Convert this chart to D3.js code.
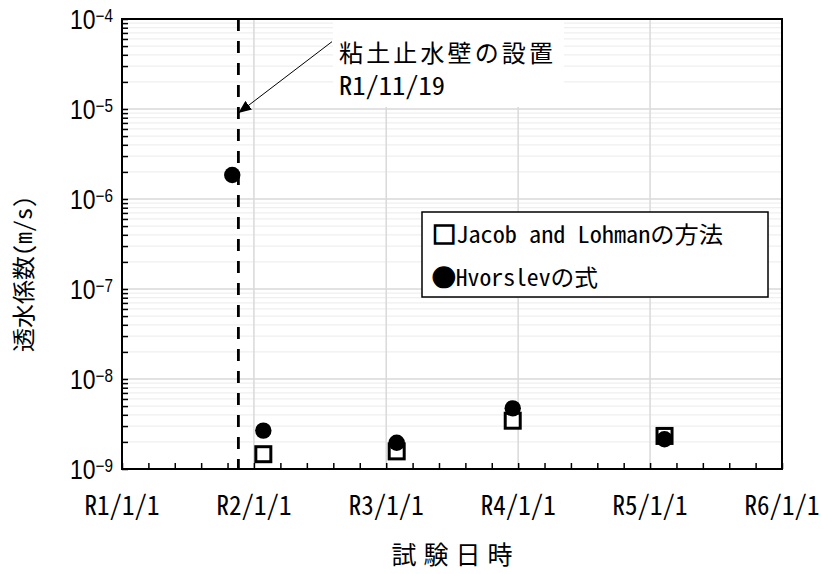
<!DOCTYPE html>
<html><head><meta charset="utf-8">
<script src="https://cdn.jsdelivr.net/npm/d3@7/dist/d3.min.js"></script>
<style>body{margin:0;background:#fff}svg{display:block}</style>
</head><body>
<svg id="c" width="821" height="574"></svg>
<script>
// ---- data ----
const jacobDates = ["2020-01-27", "2021-01-30", "2021-12-17", "2023-02-10"];
const jacobValues = [1.46e-9, 1.57e-9, 3.44e-9, 2.33e-9];
const hvorslevDates = ["2019-11-02", "2020-01-27", "2021-01-30", "2021-12-17", "2023-02-10"];
const hvorslevValues = [1.85e-6, 2.67e-9, 1.96e-9, 4.72e-9, 2.14e-9];
const xTickDates = ["2019-01-01", "2020-01-01", "2021-01-01", "2022-01-01", "2023-01-01", "2024-01-01"];
const xTickLabels = ["R1/1/1", "R2/1/1", "R3/1/1", "R4/1/1", "R5/1/1", "R6/1/1"];
const yTickExponents = [-9, -8, -7, -6, -5, -4];
const wallDate = "2019-11-19";
const annotationLines = ["粘土止水壁の設置", "R1/11/19"];
const annotationFrom = {date: "2020-08-04", value: 5.6e-5};
const annotationTo = {date: "2019-11-19", value: 9.0e-6};
const legendSymbols = ["□", "●"];
const legendLabels = ["Jacob and Lohmanの方法", "Hvorslevの式"];
const xTitle = "試験日時";
const yTitle = "透水係数(m/s)";

// ---- layout ----
const m = {left: 122, right: 782, top: 19, bottom: 469};
const parse = d3.timeParse("%Y-%m-%d");
const svg = d3.select("#c");
const mono = "'Noto Sans Mono CJK JP','Liberation Mono','Noto Sans CJK JP',monospace";
const cjk = "'Noto Sans CJK JP','Noto Sans Mono CJK JP',sans-serif";
const num = "'Liberation Sans Narrow','Arial Narrow','Liberation Sans',sans-serif";

const x = d3.scaleTime().domain([parse(xTickDates[0]), parse(xTickDates[xTickDates.length - 1])]).range([m.left, m.right]);
const y = d3.scaleLog().domain([Math.pow(10, yTickExponents[0]), Math.pow(10, yTickExponents[yTickExponents.length - 1])]).range([m.bottom, m.top]);

const minorY = [];
for (let e = yTickExponents[0]; e < yTickExponents[yTickExponents.length - 1]; e++)
  for (let k = 2; k <= 9; k++) minorY.push(k * Math.pow(10, e));
const majorY = yTickExponents.map(e => Math.pow(10, e));
const minorX = [];
for (let i = 0; i < xTickDates.length - 1; i++) {
  const a = +parse(xTickDates[i]), b = +parse(xTickDates[i + 1]);
  for (let k = 1; k < 5; k++) minorX.push(new Date(a + (b - a) * k / 5));
}
const majorX = xTickDates.map(parse);

// ---- grid ----
const g = svg.append("g");
g.selectAll(".gmin").data(minorY).join("line")
  .attr("x1", m.left).attr("x2", m.right)
  .attr("y1", d => y(d)).attr("y2", d => y(d))
  .attr("stroke", "#efefef").attr("stroke-width", 1.3);
g.selectAll(".gmaj").data(majorY).join("line")
  .attr("x1", m.left).attr("x2", m.right)
  .attr("y1", d => y(d)).attr("y2", d => y(d))
  .attr("stroke", "#d9d9d9").attr("stroke-width", 1.5);
g.selectAll(".gx").data(majorX.slice(1, -1)).join("line")
  .attr("x1", d => x(d)).attr("x2", d => x(d))
  .attr("y1", m.top).attr("y2", m.bottom)
  .attr("stroke", "#d9d9d9").attr("stroke-width", 1.5);

// ---- annotation box ----
const ax0 = x(parse(annotationFrom.date)), ay0 = y(annotationFrom.value);
const ax1 = x(parse(annotationTo.date)), ay1 = y(annotationTo.value);
svg.append("rect").attr("x", ax0 + 1).attr("y", m.top + 1).attr("width", 231).attr("height", 87).attr("fill", "#fff");

// ---- wall line ----
svg.append("line")
  .attr("x1", x(parse(wallDate))).attr("x2", x(parse(wallDate)))
  .attr("y1", m.top).attr("y2", m.bottom)
  .attr("stroke", "#000").attr("stroke-width", 2.8).attr("stroke-dasharray", "12,10");

// arrow
svg.append("defs").append("marker").attr("id", "ah")
  .attr("viewBox", "0 0 13 11").attr("refX", 13).attr("refY", 5.5)
  .attr("markerWidth", 13).attr("markerHeight", 11).attr("markerUnits", "userSpaceOnUse")
  .attr("orient", "auto")
  .append("path").attr("d", "M0,0 L13,5.5 L0,11 Z").attr("fill", "#000");
svg.append("line").attr("x1", ax0).attr("y1", ay0).attr("x2", ax1).attr("y2", ay1)
  .attr("stroke", "#000").attr("stroke-width", 1).attr("marker-end", "url(#ah)");

svg.append("text").attr("x", ax0 + 7).attr("y", 62)
  .attr("font-family", cjk).attr("font-size", 24)
  .attr("textLength", 214).attr("lengthAdjust", "spacing")
  .text(annotationLines[0]);
svg.append("text").attr("x", ax0 + 7).attr("y", 95)
  .attr("font-family", mono).attr("font-size", 25)
  .attr("textLength", 106).attr("lengthAdjust", "spacingAndGlyphs")
  .text(annotationLines[1]);

// ---- data ----
const jacob = jacobDates.map((d, i) => ({d: parse(d), v: jacobValues[i]}));
const hv = hvorslevDates.map((d, i) => ({d: parse(d), v: hvorslevValues[i]}));
svg.selectAll(".sq").data(jacob).join("rect")
  .attr("x", d => x(d.d) - 7.5).attr("y", d => y(d.v) - 7.5)
  .attr("width", 15).attr("height", 15)
  .attr("fill", "#fff").attr("stroke", "#000").attr("stroke-width", 3);
svg.selectAll(".ci").data(hv).join("circle")
  .attr("cx", d => x(d.d)).attr("cy", d => y(d.v)).attr("r", 8.2)
  .attr("fill", "#000");

// ---- axes ----
const yAxis = d3.axisLeft(y).tickValues(minorY.concat(majorY)).tickSize(-6).tickFormat("");
const ya = svg.append("g").attr("transform", `translate(${m.left},0)`).call(yAxis);
ya.select(".domain").remove();
ya.selectAll("line").attr("stroke", "#000").attr("stroke-width", 1.5);

const xAxis = d3.axisBottom(x).tickValues(minorX.concat(majorX)).tickSize(-6).tickFormat("");
const xa = svg.append("g").attr("transform", `translate(0,${m.bottom})`).call(xAxis);
xa.select(".domain").remove();
xa.selectAll("line").attr("stroke", "#000").attr("stroke-width", 1.5);

svg.append("rect").attr("x", m.left).attr("y", m.top)
  .attr("width", m.right - m.left).attr("height", m.bottom - m.top)
  .attr("fill", "none").attr("stroke", "#000").attr("stroke-width", 2);

// y tick labels: "10" with superscript exponent (horizontally condensed)
const yl = svg.append("g");
yTickExponents.forEach(e => {
  const yy = y(Math.pow(10, e));
  const t = yl.append("text")
    .attr("transform", `translate(113,${yy + 9.5}) scale(0.85,1)`)
    .attr("text-anchor", "end")
    .attr("font-family", num).attr("font-size", 27);
  t.append("tspan").text("10");
  t.append("tspan").attr("dy", -6.5).attr("font-size", 18).text("\u2212" + Math.abs(e));
});

// x tick labels
svg.selectAll(".xl").data(majorX).join("text")
  .attr("x", d => x(d)).attr("y", 515).attr("text-anchor", "middle")
  .attr("font-family", mono).attr("font-size", 27)
  .attr("textLength", 75).attr("lengthAdjust", "spacingAndGlyphs")
  .text((d, i) => xTickLabels[i]);

// titles
svg.append("text").attr("x", 452).attr("y", 564).attr("text-anchor", "middle")
  .attr("font-family", cjk).attr("font-size", 25)
  .attr("textLength", 121).attr("lengthAdjust", "spacing")
  .text(xTitle);
svg.append("text").attr("transform", "translate(32,274) rotate(-90)").attr("text-anchor", "middle")
  .attr("font-family", mono).attr("font-size", 23)
  .attr("textLength", 156).attr("lengthAdjust", "spacingAndGlyphs")
  .text(yTitle);

// ---- legend ----
const lg = svg.append("g");
lg.append("rect").attr("x", 422).attr("y", 212).attr("width", 346).attr("height", 85)
  .attr("fill", "#fff").attr("stroke", "#000").attr("stroke-width", 1.5);
const legendLens = [291, 166];
const legendY = [243, 286];
legendLabels.forEach((s, i) => {
  const t = lg.append("text").attr("x", 432).attr("y", legendY[i])
    .attr("font-family", mono).attr("font-size", 23)
    .attr("textLength", legendLens[i]).attr("lengthAdjust", "spacingAndGlyphs");
  t.append("tspan").attr("font-weight", "bold").attr("stroke", "#000").attr("stroke-width", 1.3).text(legendSymbols[i]);
  t.append("tspan").text(s);
});
</script>
</body></html>
